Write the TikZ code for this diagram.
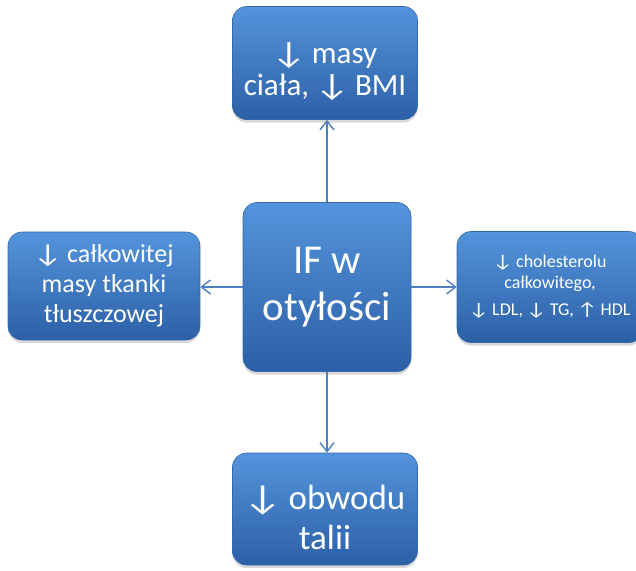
\documentclass[tikz,border=0pt]{standalone}
\usepackage{fontspec}
\usepackage{graphicx}
\setmainfont{Carlito}
\usetikzlibrary{arrows.meta,shadows}
\definecolor{boxlight}{RGB}{84,148,220}
\definecolor{boxmid}{RGB}{62,126,200}
\definecolor{boxdark}{RGB}{44,96,166}
\definecolor{boxedge}{RGB}{52,104,170}
\definecolor{linkblue}{RGB}{79,129,189}
% wide arrows as in the slide font
\newcommand{\dn}{\kern-0.05em\scalebox{1.25}[1]{↓}\kern-0.05em}
\newcommand{\up}{\kern-0.05em\scalebox{1.25}[1]{↑}\kern-0.05em}
\tikzset{
  ifbox/.style={rectangle, rounded corners=14pt, draw=boxedge, line width=0.6pt,
    top color=boxlight, middle color=boxmid, bottom color=boxdark, text=white, align=center,
    inner sep=0pt, drop shadow={shadow xshift=0pt, shadow yshift=-3pt, opacity=0.3}},
  link/.style={draw=linkblue, line width=1.4pt, -{Straight Barb[length=9pt,width=14pt,line width=1.4pt]}}
}
\begin{document}
\begin{tikzpicture}[x=1pt,y=-1pt]
\useasboundingbox (0,0) rectangle (636,570);

% Central box
\node[ifbox, minimum width=168pt, minimum height=169pt, font=\fontsize{41}{47}\selectfont]
  (core) at (327,287) {IF w\\otyłości};

% Outer boxes
\node[ifbox, minimum width=185pt, minimum height=113pt, font=\fontsize{31}{32}\selectfont]
  (weight) at (325,63) {\rule{0pt}{37pt}\dn{} masy\\ciała, \dn{} BMI};
\node[ifbox, minimum width=192pt, minimum height=108pt, font=\fontsize{26}{30}\selectfont]
  (fat) at (104,286) {\dn{} całkowitej\\masy tkanki\\tłuszczowej};
\node[ifbox, minimum width=186pt, minimum height=111pt, font=\fontsize{18}{21}\selectfont]
  (lipid) at (550,287) {\dn{} cholesterolu\\całkowitego,\\[6pt]\dn{} LDL, \dn{} TG, \up{} HDL};
\node[ifbox, minimum width=185pt, minimum height=112pt, font=\fontsize{35}{40}\selectfont]
  (waist) at (325,509) {\rule{0pt}{42pt}\dn{} obwodu\\talii};

% Connectors
\draw[link] (core.north) -- (core.north |- weight.south);
\draw[link] (core.west) -- (core.west -| fat.east);
\draw[link] (core.east) -- (core.east -| lipid.west);
\draw[link] (core.south) -- (core.south |- waist.north);
\end{tikzpicture}
\end{document}
